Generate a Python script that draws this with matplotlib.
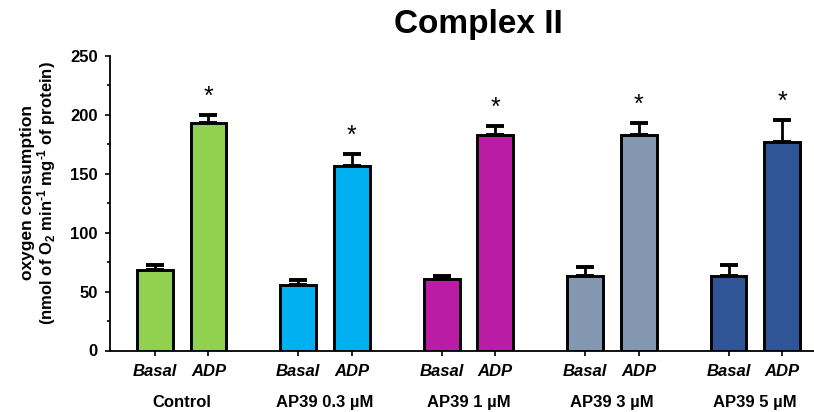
import numpy as np
import matplotlib
matplotlib.use('Agg')
import matplotlib.pyplot as plt
from matplotlib.ticker import MultipleLocator

# data
groups = ['Control', 'AP39 0.3 µM', 'AP39 1 µM', 'AP39 3 µM', 'AP39 5 µM']
conditions = ['Basal', 'ADP']
basal = [68, 56, 61, 63, 63]
basal_err = [5, 3.5, 2.5, 8, 9.5]
adp = [193, 157, 183, 183, 177]
adp_err = [7, 10, 8, 10, 19]
significant = [True, True, True, True, True]  # star over ADP bars

colors = ['#92D050', '#00B0F0', '#BA1CA6', '#8497B0', '#2F5597']

plt.rcParams['font.family'] = ['Liberation Sans', 'DejaVu Sans']
plt.rcParams['font.weight'] = 'bold'
plt.rcParams['mathtext.fontset'] = 'custom'
plt.rcParams['mathtext.rm'] = 'Liberation Sans:bold'
plt.rcParams['mathtext.bf'] = 'Liberation Sans:bold'
plt.rcParams['mathtext.default'] = 'bf'

fig = plt.figure(figsize=(8.14, 4.12), dpi=100)
ax = fig.add_axes([110 / 814, 61.5 / 412, 704 / 814, 294.5 / 412])

group_step = 2.68
width = 0.67
x_basal = np.arange(len(groups)) * group_step
x_adp = x_basal + 1

err_kw = dict(ecolor='black', elinewidth=2.0, capsize=6.8, capthick=2.8)
for i in range(len(groups)):
    ax.bar(x_basal[i], basal[i], width, color=colors[i], edgecolor='black',
           linewidth=2.1, zorder=3)
    ax.bar(x_adp[i], adp[i], width, color=colors[i], edgecolor='black',
           linewidth=2.1, zorder=3)
    ax.errorbar(x_basal[i], basal[i], yerr=[[0], [basal_err[i]]], fmt='none',
                zorder=2, **err_kw)
    ax.errorbar(x_adp[i], adp[i], yerr=[[0], [adp_err[i]]], fmt='none',
                zorder=2, **err_kw)
    if significant[i]:
        ax.annotate('*', (x_adp[i], adp[i] + adp_err[i]), xytext=(0, 8),
                    textcoords='offset points', ha='center', va='baseline',
                    fontsize=18, fontweight='normal')
    # group label under the pair
    ax.annotate(groups[i], ((x_basal[i] + x_adp[i]) / 2, 0), xycoords='data',
                xytext=(0, -37.5), textcoords='offset points', ha='center',
                va='center', fontsize=12, fontweight='bold',
                annotation_clip=False)

ax.set_xlim(-0.841, 12.318)
ax.set_ylim(0, 250)

ticks = np.sort(np.concatenate([x_basal, x_adp]))
ax.set_xticks(ticks)
ax.set_xticklabels(conditions * len(groups), fontsize=12, fontstyle='italic',
                   fontweight='bold')
ax.yaxis.set_major_locator(MultipleLocator(50))
ax.yaxis.set_minor_locator(MultipleLocator(25))
ax.tick_params(axis='y', which='major', length=3.8, width=1.2, pad=5,
               labelsize=12)
ax.tick_params(axis='y', which='minor', length=2.4, width=1.2)
ax.tick_params(axis='x', length=3.6, width=1.2, pad=6)

for side in ['top', 'right']:
    ax.spines[side].set_visible(False)
for side in ['left', 'bottom']:
    ax.spines[side].set_linewidth(1.3)

fig.text(27.5 / 814, 1 - 193 / 412, 'oxygen consumption', rotation=90,
         ha='center', va='center', fontsize=12.5, fontweight='bold')
fig.text(47 / 814, 1 - 193 / 412,
         '(nmol of O$_2$ min$^{\u2010 1}$ mg$^{\u2010 1}$ of protein)',
         rotation=90, ha='center', va='center', fontsize=12, fontweight='bold')

fig.text(478 / 814, 1 - 25 / 412, 'Complex II', ha='center', va='center',
         fontsize=24, fontweight='bold')

fig.savefig('out.png', dpi=100)
